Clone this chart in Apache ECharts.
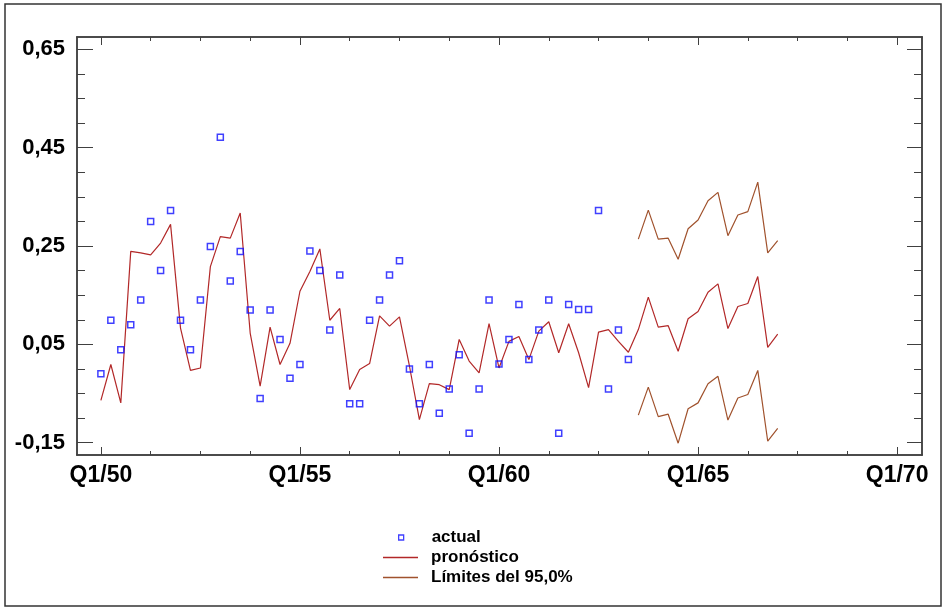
<!DOCTYPE html>
<html>
<head>
<meta charset="utf-8">
<script src="https://cdn.jsdelivr.net/npm/echarts@6/dist/echarts.min.js"></script>
<style>html,body{margin:0;padding:0;background:#fff}#c{width:943px;height:610px}</style>
</head>
<body>
<div id="c"></div>
<script>
// Quarter index 0 = Q1/50
const actualStart = 0;
const actualValues = [
  -0.010, 0.099, 0.039, 0.090, 0.140, 0.300, 0.200, 0.322, 0.099, 0.039,
   0.140, 0.249, 0.471, 0.179, 0.239, 0.120, -0.060, 0.120, 0.060, -0.019,
   0.009, 0.240, 0.200, 0.079, 0.191, -0.071, -0.071, 0.099, 0.140, 0.191,
   0.220, 0.000, -0.071, 0.009, -0.090, -0.041, 0.029, -0.131, -0.041, 0.140,
   0.010, 0.060, 0.131, 0.019, 0.079, 0.140, -0.131, 0.131, 0.121, 0.121,
   0.322, -0.041, 0.079, 0.019
];
const forecastStart = 0;
const forecastValues = [
  -0.064, 0.009, -0.069, 0.239, 0.236, 0.232, 0.256, 0.294, 0.083, -0.003,
   0.002, 0.208, 0.269, 0.266, 0.317, 0.073, -0.035, 0.085, 0.009, 0.052,
   0.158, 0.198, 0.244, 0.099, 0.123, -0.042, -0.001, 0.011, 0.108, 0.087,
   0.106, 0.006, -0.103, -0.030, -0.032, -0.042, 0.060, 0.016, -0.008, 0.092,
   0.002, 0.056, 0.066, 0.019, 0.077, 0.096, 0.033, 0.092, 0.033, -0.038,
   0.075, 0.080, 0.056, 0.034, 0.080, 0.146, 0.085, 0.088, 0.036, 0.102,
   0.117, 0.156, 0.173, 0.082, 0.127, 0.133, 0.188, 0.044, 0.071
];
const limitStart = 54;
const upperLimits = [0.264, 0.323, 0.264, 0.266, 0.223, 0.285, 0.303, 0.342, 0.359, 0.271, 0.313, 0.320, 0.380, 0.236, 0.261];
const lowerLimits = [-0.094, -0.037, -0.097, -0.092, -0.151, -0.081, -0.069, -0.030, -0.015, -0.104, -0.059, -0.052, -0.003, -0.147, -0.121];

const xMajorTicks = [0, 20, 40, 60, 80];
const xMajorLabels = ['Q1/50', 'Q1/55', 'Q1/60', 'Q1/65', 'Q1/70'];
const xMinorTicks = [0,5,10,15,20,25,30,35,40,45,50,55,60,65,70,75,80];
const yMajorTicks = [-0.15, 0.05, 0.25, 0.45, 0.65];
const yMajorLabels = ['-0,15', '0,05', '0,25', '0,45', '0,65'];
const yMinorTicks = [-0.15,-0.10,-0.05,0,0.05,0.10,0.15,0.20,0.25,0.30,0.35,0.40,0.45,0.50,0.55,0.60,0.65];

const toPairs = (start, arr) => arr.map((v, i) => [start + i, v]);

const X_MIN = -2.4, X_MAX = 82.5, Y_MIN = -0.175, Y_MAX = 0.675;
const AX = '#404040';
const FONT = 'Liberation Sans, Arial, sans-serif';

function xAx(pos, len, ticks, labels) {
  return {
    type: 'value', position: pos, min: X_MIN, max: X_MAX,
    axisLine: { show: true, onZero: false, lineStyle: { color: AX, width: 1.5 } },
    axisTick: { show: true, inside: true, length: len, customValues: ticks, lineStyle: { color: AX, width: 1 } },
    axisLabel: labels ? {
      show: true, customValues: xMajorTicks, margin: 9,
      formatter: v => xMajorLabels[xMajorTicks.indexOf(Math.round(v))] || '',
      color: '#000', fontFamily: FONT, fontWeight: 'bold', fontSize: 23
    } : { show: false },
    splitLine: { show: false }
  };
}
function yAx(pos, len, ticks, labels) {
  return {
    type: 'value', position: pos, min: Y_MIN, max: Y_MAX,
    axisLine: { show: true, onZero: false, lineStyle: { color: AX, width: 1.5 } },
    axisTick: { show: true, inside: true, length: len, customValues: ticks, lineStyle: { color: AX, width: 1 } },
    axisLabel: labels ? {
      show: true, customValues: yMajorTicks, margin: 12,
      formatter: v => {
        let best = 0, bd = 1e9;
        yMajorTicks.forEach((t, i) => { const d = Math.abs(t - v); if (d < bd) { bd = d; best = i; } });
        return yMajorLabels[best];
      },
      color: '#000', fontFamily: FONT, fontWeight: 'bold', fontSize: 22
    } : { show: false },
    splitLine: { show: false }
  };
}

const chart = echarts.init(document.getElementById('c'), null, { renderer: 'canvas' });
const legendText = { color: '#000', fontFamily: FONT, fontWeight: 'bold', fontSize: 17 };
chart.setOption({
  animation: false,
  backgroundColor: '#fff',
  grid: { left: 77, right: 21, top: 37, bottom: 155, containLabel: false },
  xAxis: [
    xAx('bottom', 8, xMajorTicks, true),
    xAx('bottom', 4, xMinorTicks, false),
    xAx('top', 8, xMajorTicks, false),
    xAx('top', 4, xMinorTicks, false)
  ],
  yAxis: [
    yAx('left', 16, yMajorTicks, true),
    yAx('left', 8, yMinorTicks, false),
    yAx('right', 15, yMajorTicks, false),
    yAx('right', 8, yMinorTicks, false)
  ],
  legend: [
    { data: [{ name: 'actual', icon: 'rect',
               itemStyle: { color: 'rgba(255,255,255,0)', borderColor: '#1010ff', borderWidth: 1.3 } }],
      left: 398, top: 529, padding: 0, itemWidth: 5, itemHeight: 5,
      textStyle: Object.assign({ padding: [0, 0, 0, 23] }, legendText), selectedMode: false },
    { data: [{ name: 'pronóstico', icon: 'rect' }], left: 383, top: 549, padding: 0, itemWidth: 35, itemHeight: 1.3,
      textStyle: Object.assign({ padding: [0, 0, 0, 8] }, legendText), selectedMode: false },
    { data: [{ name: 'Límites del 95,0%', icon: 'rect' }], left: 383, top: 569, padding: 0, itemWidth: 35, itemHeight: 1.3,
      textStyle: Object.assign({ padding: [0, 0, 0, 8] }, legendText), selectedMode: false }
  ],
  graphic: [{
    type: 'rect', shape: { x: 5, y: 4, width: 936, height: 602 },
    style: { fill: 'none', stroke: '#333', lineWidth: 1.5 }, silent: true, z: -1
  }],
  series: [
    {
      name: 'actual', type: 'scatter', symbol: 'rect', symbolSize: 6,
      itemStyle: { color: 'rgba(255,255,255,0)', borderColor: '#1010ff', borderWidth: 1.5 },
      data: toPairs(actualStart, actualValues), z: 3
    },
    {
      name: 'pronóstico', type: 'line', symbol: 'none', showSymbol: false,
      lineStyle: { color: '#b22828', width: 1.2 }, itemStyle: { color: '#b22828' },
      data: toPairs(forecastStart, forecastValues), z: 2
    },
    {
      name: 'Límites del 95,0%', type: 'line', symbol: 'none', showSymbol: false,
      lineStyle: { color: '#a0522d', width: 1.2 }, itemStyle: { color: '#a0522d' },
      data: toPairs(limitStart, upperLimits), z: 2
    },
    {
      name: 'Límites del 95,0%', type: 'line', symbol: 'none', showSymbol: false,
      lineStyle: { color: '#a0522d', width: 1.2 }, itemStyle: { color: '#a0522d' },
      data: toPairs(limitStart, lowerLimits), z: 2
    }
  ]
});
</script>
</body>
</html>
